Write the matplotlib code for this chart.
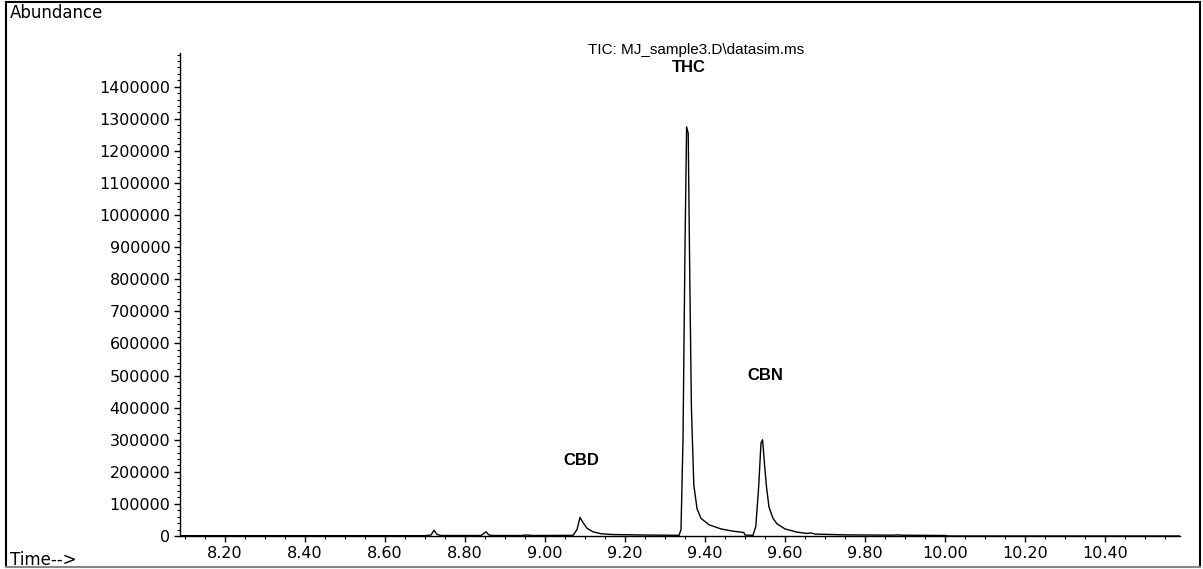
import matplotlib
matplotlib.use("Agg")
import matplotlib.pyplot as plt
from matplotlib.lines import Line2D
from matplotlib.ticker import MultipleLocator, FixedLocator

# ---- data ----
time_min = [8.0875, 8.70, 8.715, 8.7225, 8.73, 8.74, 8.84, 8.8525, 8.86, 8.87,
            8.94, 8.955, 8.97, 9.07, 9.08, 9.0875, 9.095, 9.105, 9.12, 9.14,
            9.17, 9.25, 9.30, 9.335, 9.34, 9.345, 9.35, 9.354, 9.358, 9.362,
            9.366, 9.372, 9.38, 9.39, 9.41, 9.44, 9.47, 9.497, 9.50, 9.52,
            9.527, 9.534, 9.540, 9.544, 9.549, 9.554, 9.56, 9.57, 9.58, 9.60,
            9.63, 9.655, 9.665, 9.675, 9.75, 9.87, 9.88, 9.89, 10.0, 10.01,
            10.5875]
abundance = [1000, 1000, 3000, 18000, 5000, 1500, 1500, 13000, 3000, 1500,
             1500, 3000, 1500, 2000, 20000, 58000, 42000, 24000, 13000, 7000,
             4500, 3000, 2500, 2000, 20000, 300000, 900000, 1275000, 1255000, 800000,
             400000, 160000, 85000, 55000, 35000, 22000, 15000, 11000, 3000, 2000,
             30000, 150000, 290000, 300000, 220000, 150000, 90000, 55000, 38000, 22000,
             12000, 8000, 9500, 6000, 3500, 2500, 3500, 2500, 1500, 0,
             0]

peak_names = ["CBD", "THC", "CBN"]
peak_label_x = [9.09, 9.36, 9.55]
peak_label_y = [235000, 1460000, 500000]

y_ticks = list(range(0, 1400001, 100000))
x_ticks = [8.20, 8.40, 8.60, 8.80, 9.00, 9.20, 9.40, 9.60, 9.80, 10.00, 10.20, 10.40]

W, H = 1203, 569
fig = plt.figure(figsize=(W / 100, H / 100), dpi=100)
fig.patch.set_facecolor("white")

ax = fig.add_axes([180 / W, 1 - 536 / H, 1000 / W, (536 - 53) / H])
ax.plot(time_min, abundance, color="black", lw=1.0)

ax.set_xlim(8.0875, 10.5875)
ax.set_ylim(0, 1505000)

for s in ["top", "right"]:
    ax.spines[s].set_visible(False)
ax.spines["left"].set_linewidth(1.0)
ax.spines["bottom"].set_linewidth(1.0)

ax.xaxis.set_major_locator(FixedLocator(x_ticks))
ax.xaxis.set_minor_locator(MultipleLocator(0.05))
ax.yaxis.set_major_locator(FixedLocator(y_ticks))
ax.yaxis.set_minor_locator(MultipleLocator(20000))

ax.set_xticklabels([f"{v:.2f}" for v in x_ticks])
ax.set_yticklabels([str(v) for v in y_ticks])

ax.tick_params(axis="both", which="major", direction="out", length=4, width=1,
               labelsize=11.5, color="black", pad=3)
ax.tick_params(axis="both", which="minor", direction="out", length=2.5, width=0.8)
for lbl in ax.get_xticklabels() + ax.get_yticklabels():
    lbl.set_family("DejaVu Sans")

# peak labels
for name, px, py in zip(peak_names, peak_label_x, peak_label_y):
    ax.text(px, py, name, ha="center", va="center", fontsize=12,
            fontweight="bold", family="Liberation Sans")

# title
fig.text(696 / W, 1 - 50 / H, "TIC: MJ_sample3.D\\datasim.ms", ha="center",
         va="center", fontsize=11, family="Liberation Sans")

# corner texts
fig.text(10 / W, 1 - 13 / H, "Abundance", ha="left", va="center",
         fontsize=12, family="DejaVu Sans")
fig.text(10 / W, 1 - 560 / H, "Time-->", ha="left", va="center",
         fontsize=12, family="DejaVu Sans")

# outer frame
def fl(x0, y0, x1, y1, color="black", lw=1.5):
    fig.add_artist(Line2D([x0 / W, x1 / W], [1 - y0 / H, 1 - y1 / H],
                          transform=fig.transFigure, color=color, lw=lw))

fl(6, 2, 1200, 2)
fl(6, 2, 6, 567)
fl(1200, 2, 1200, 567)
fl(6, 567, 1200, 567, color="#888888", lw=1.5)

fig.savefig("out.png", dpi=100, facecolor="white")
